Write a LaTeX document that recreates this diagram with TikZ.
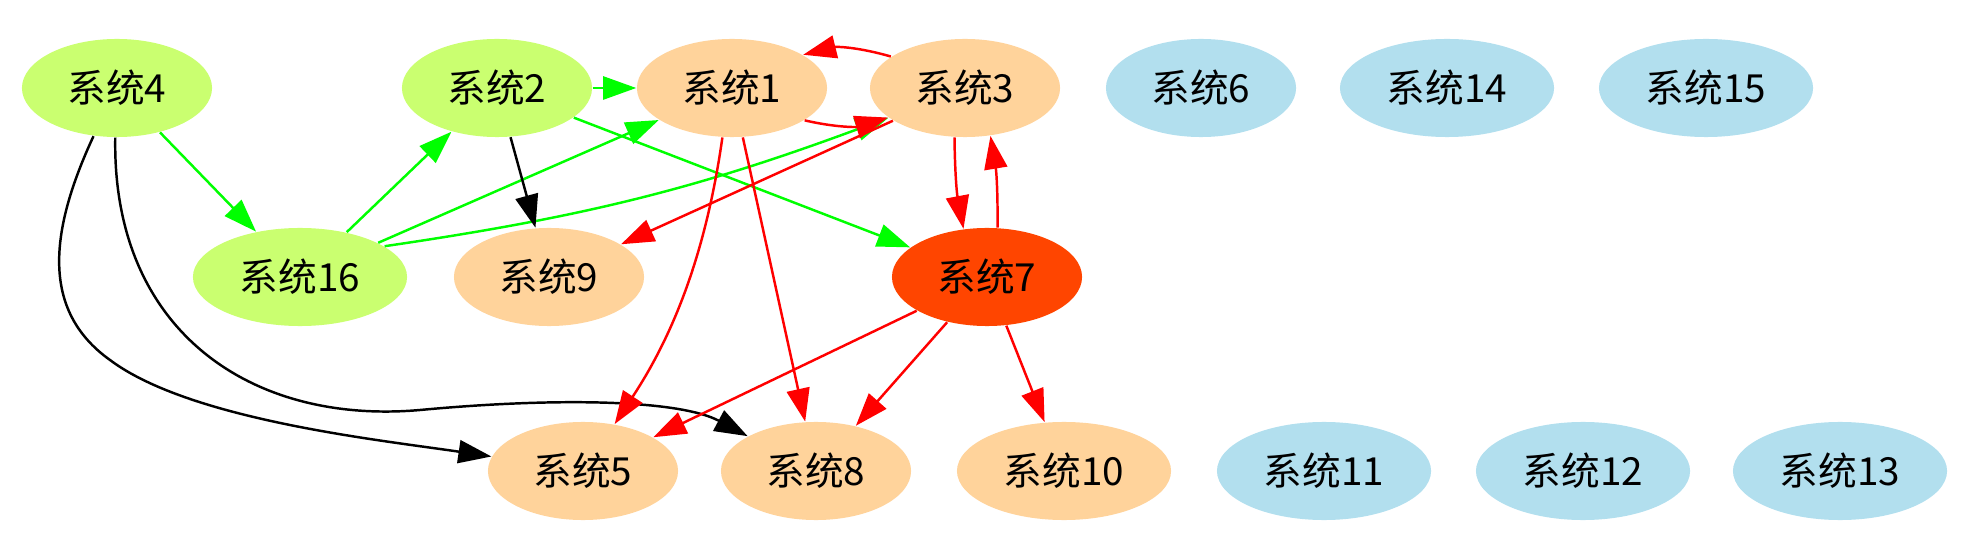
\documentclass[tikz,border=0pt]{standalone}
\usepackage{fontspec}
\setmainfont{Noto Sans CJK SC}
\usetikzlibrary{shapes.geometric,arrows.meta}
\definecolor{sysgreen}{HTML}{CAFF70}
\definecolor{syspeach}{HTML}{FFD39B}
\definecolor{sysblue}{HTML}{B2DFEE}
\definecolor{sysorange}{HTML}{FF4500}
\tikzset{
    sys/.style={ellipse,inner sep=0pt,minimum width=1.9cm,minimum height=0.98cm,font=\fontsize{11pt}{13pt}\selectfont},
    wide/.style={minimum width=2.14cm},
    greennode/.style={sys,fill=sysgreen},
    peachnode/.style={sys,fill=syspeach},
    bluenode/.style={sys,fill=sysblue},
    hotnode/.style={sys,fill=sysorange},
    link/.style={line width=0.7pt,-{Triangle[length=0.33cm,width=0.23cm]}},
    greenedge/.style={link,green},
    rededge/.style={link,red},
    blackedge/.style={link,black},
}

\begin{document}
\begin{tikzpicture}[x=0.01cm,y=-0.01cm]
\useasboundingbox (0,0) rectangle (1979,540);
% top row
\node[greennode] (s4) at (117,88) {系统4};
\node[greennode] (s2) at (497,88) {系统2};
\node[peachnode] (s1) at (732,88) {系统1};
\node[peachnode] (s3) at (965,88) {系统3};
\node[bluenode] (s6) at (1201,88) {系统6};
\node[bluenode,wide] (s14) at (1447,88) {系统14};
\node[bluenode,wide] (s15) at (1706,88) {系统15};
% middle row
\node[greennode,wide] (s16) at (300,277) {系统16};
\node[peachnode] (s9) at (549,277) {系统9};
\node[hotnode] (s7) at (987,277) {系统7};
% bottom row
\node[peachnode] (s5) at (583,471) {系统5};
\node[peachnode] (s8) at (816,471) {系统8};
\node[peachnode,wide] (s10) at (1064,471) {系统10};
\node[bluenode,wide] (s11) at (1324,471) {系统11};
\node[bluenode,wide] (s12) at (1583,471) {系统12};
\node[bluenode,wide] (s13) at (1840,471) {系统13};

\draw[greenedge] (s2) -- (s1);
\draw[greenedge] (s4) -- (s16);
\draw[greenedge] (s16) -- (s2);
\draw[greenedge] (s16) -- (s1);
\draw[greenedge] (s16.20) to[bend right=6] (s3);
\draw[greenedge] (s2) -- (s7);

\draw[blackedge] (s2) -- (s9);
\draw[blackedge] (s4.-116) .. controls (50,230) and (40,310) .. (110,360)
    .. controls (190,420) and (380,440) .. (s5.171);
\draw[blackedge] (s4.-92) .. controls (112,330) and (250,425) .. (420,410)
    .. controls (560,397) and (680,400) .. (s8.153);

\draw[rededge] (s3.157) to[bend right=15] (s1.25);
\draw[rededge] (s1.-24) to[bend right=15] (s3.-159);
\draw[rededge] (s3) -- (s9);
\draw[rededge] (s3.-102) to[bend right=5] (s7.116);
\draw[rededge] (s7.78) to[bend right=5] (s3.-62);
\draw[rededge] (s1.-101) .. controls (705,260) and (670,340) .. (s5.56);
\draw[rededge] (s1) -- (s8);
\draw[rededge] (s7) -- (s5);
\draw[rededge] (s7) -- (s8);
\draw[rededge] (s7) -- (s10);
\end{tikzpicture}
\end{document}
